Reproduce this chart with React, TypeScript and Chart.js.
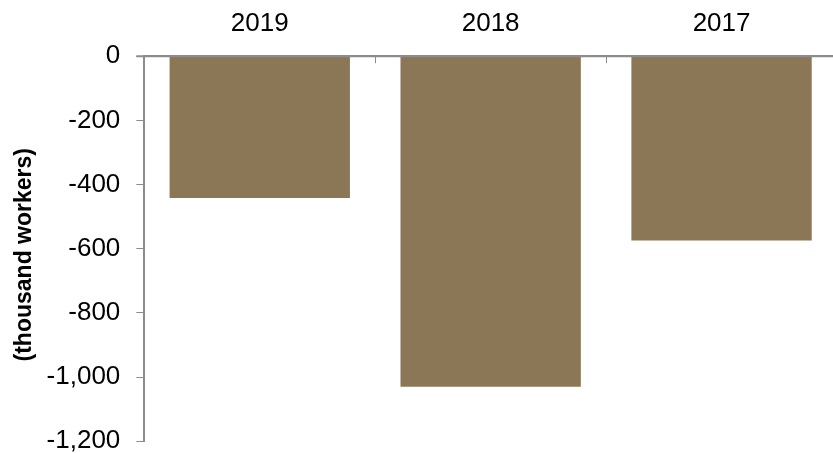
import React, { useEffect, useRef } from "react";
import { Chart, registerables } from "chart.js";

Chart.register(...registerables);

const categories = ["2019", "2018", "2017"];
const values = [-442, -1030, -574];
const yMin = -1200;
const yMax = 0;
const yStep = 200;
const yTitle = "(thousand workers)";

const FONT = "'Liberation Sans', Arial, sans-serif";
const AXIS = "#8c8c8c";
const BAR = "#8b7756";

const insideTicks = {
  id: "insideTicks",
  afterDatasetsDraw(chart: any) {
    const { ctx, chartArea, scales } = chart;
    const x = scales.x;
    ctx.save();
    ctx.strokeStyle = AXIS;
    ctx.lineWidth = 2;
    ctx.beginPath();
    ctx.moveTo(chartArea.left - 8, chartArea.top);
    ctx.lineTo(chartArea.right, chartArea.top);
    ctx.stroke();
    ctx.lineWidth = 1;
    ctx.beginPath();
    for (let i = 1; i < categories.length; i++) {
      const px = Math.round((x.getPixelForTick(i - 1) + x.getPixelForTick(i)) / 2) + 0.5;
      ctx.moveTo(px, chartArea.top);
      ctx.lineTo(px, chartArea.top + 7);
    }
    ctx.stroke();
    // y-axis title, placed relative to the y scale box
    const y = scales.y;
    ctx.fillStyle = "#000";
    ctx.font = `bold 23px ${FONT}`;
    ctx.textAlign = "center";
    ctx.textBaseline = "middle";
    ctx.translate(y.left + 17, (chartArea.top + chartArea.bottom) / 2 + 6);
    ctx.rotate(-Math.PI / 2);
    ctx.fillText(yTitle, 0, 0);
    ctx.restore();
  },
};

export default function App() {
  const ref = useRef<HTMLCanvasElement>(null);
  useEffect(() => {
    if (!ref.current) return;
    const chart = new Chart(ref.current, {
      type: "bar",
      data: {
        labels: categories,
        datasets: [
          {
            data: values,
            backgroundColor: BAR,
            borderWidth: 0,
            barPercentage: 0.781,
            categoryPercentage: 1,
          },
        ],
      },
      options: {
        animation: false,
        responsive: true,
        maintainAspectRatio: false,
        layout: { padding: 0 },
        plugins: { legend: { display: false }, tooltip: { enabled: false } },
        scales: {
          x: {
            position: "top",
            grid: { display: false, drawTicks: true, tickLength: 17 },
            border: { display: true, color: AXIS, width: 2 },
            ticks: {
              color: "#000",
              padding: 0,
              font: { family: FONT, size: 26 },
            },
          },
          y: {
            min: yMin,
            max: yMax,
            grid: {
              drawOnChartArea: false,
              drawTicks: true,
              tickLength: 24,
              tickBorderDash: [0, 16, 8, 0],
              color: AXIS,
              lineWidth: 1,
            },
            border: { display: true, color: AXIS, width: 2 },
            ticks: {
              stepSize: yStep,
              color: "#000",
              padding: 0,
              font: { family: FONT, size: 26, lineHeight: 0.9 },
            },
            title: {
              display: true,
              text: yTitle,
              color: "rgba(0,0,0,0)",
              padding: { top: 2, bottom: 9 },
              font: { family: FONT, size: 23, weight: "bold" },
            },
          },
        },
      },
      plugins: [insideTicks],
    });
    return () => chart.destroy();
  }, []);
  return (
    <div
      style={{
        position: "fixed",
        left: 8,
        top: 8,
        width: 825,
        height: 445,
        overflow: "hidden",
      }}
    >
      <div style={{ position: "relative", width: 829, height: 445 }}>
        <canvas ref={ref} />
      </div>
    </div>
  );
}
